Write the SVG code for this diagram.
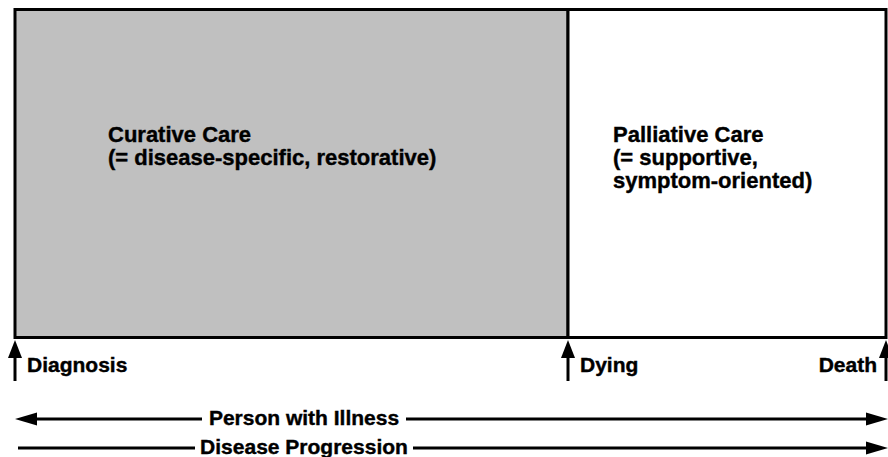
<svg xmlns="http://www.w3.org/2000/svg" width="888" height="457" viewBox="0 0 888 457">
  <style>
    .lbl { font-family: "Liberation Sans", Arial, sans-serif; font-weight: bold; font-size: 21px; fill: #000; stroke: #000; stroke-width: 0.4; }
    .big { font-size: 22px; }
    .edge { stroke: #000; stroke-width: 3; }
    .line { stroke: #000; stroke-width: 3; fill: none; }
    .head { fill: #000; stroke: none; }
  </style>

  <!-- care phases -->
  <g id="curative">
    <rect x="15" y="9.5" width="553" height="328" fill="#c0c0c0" class="edge"/>
    <text class="lbl big" x="108" y="142">Curative Care</text>
    <text class="lbl big" x="108" y="165">(= disease-specific, restorative)</text>
  </g>
  <g id="palliative">
    <rect x="568" y="9.5" width="318" height="328" fill="#ffffff" class="edge"/>
    <text class="lbl big" x="613" y="142">Palliative Care</text>
    <text class="lbl big" x="613" y="165">(= supportive,</text>
    <text class="lbl big" x="613" y="188">symptom-oriented)</text>
  </g>

  <!-- milestone markers -->
  <g id="diagnosis">
    <text class="lbl" x="27" y="372">Diagnosis</text>
  </g>
  <g id="dying">
    <text class="lbl" x="580" y="372">Dying</text>
  </g>
  <g id="death">
    <text class="lbl" x="877" y="372" text-anchor="end">Death</text>
  </g>

  <g id="connectors">
    <!-- upward milestone arrows -->
    <line class="line" x1="15" y1="352" x2="15" y2="381"/>
    <polygon class="head" points="15,340 8,358 22,358"/>
    <line class="line" x1="568" y1="352" x2="568" y2="381"/>
    <polygon class="head" points="568,340 561,358 575,358"/>
    <line class="line" x1="886" y1="352" x2="886" y2="381"/>
    <polygon class="head" points="886,340 879,358 893,358"/>

    <!-- person with illness (double-headed) -->
    <line class="line" x1="30" y1="419" x2="202" y2="419"/>
    <line class="line" x1="406" y1="419" x2="872" y2="419"/>
    <polygon class="head" points="15,419 37,412.5 37,425.5"/>
    <polygon class="head" points="888,419 866,412.5 866,425.5"/>
    <text class="lbl" x="304" y="425" text-anchor="middle">Person with Illness</text>

    <!-- disease progression -->
    <line class="line" x1="18" y1="448" x2="195" y2="448"/>
    <line class="line" x1="413" y1="448" x2="872" y2="448"/>
    <polygon class="head" points="888,448 866,441.5 866,454.5"/>
    <text class="lbl" x="304" y="454" text-anchor="middle">Disease Progression</text>
  </g>
</svg>
